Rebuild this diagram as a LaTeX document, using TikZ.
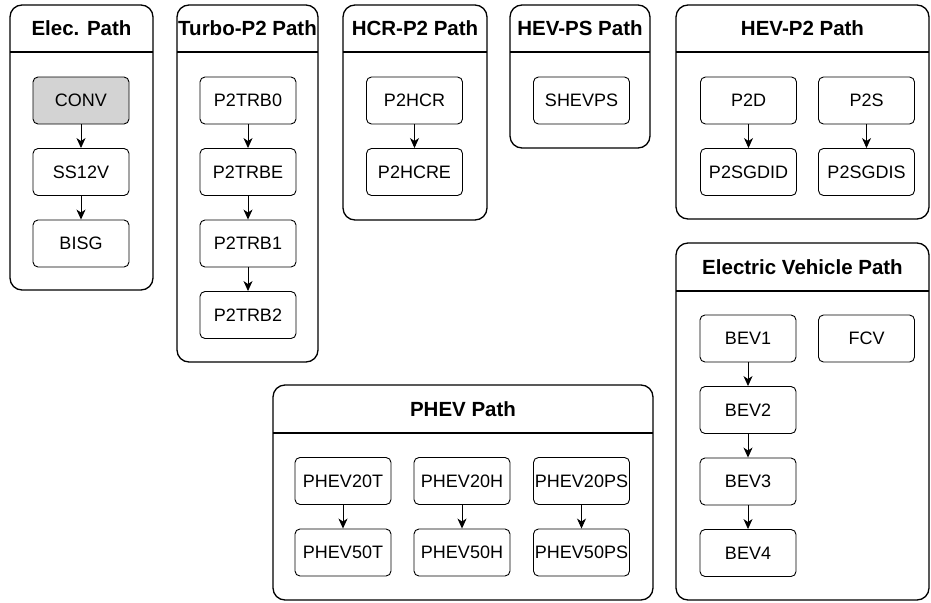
\documentclass[tikz,border=0pt]{standalone}
\usepackage{fontspec}
\setmainfont{Liberation Sans}
\usepackage{tikz}
\usetikzlibrary{arrows.meta}
\definecolor{convgray}{HTML}{D3D3D3}

\begin{document}
\begin{tikzpicture}[x=1pt,y=-1pt,node distance=71.5pt]
\tikzstyle{group}=[draw,line width=1.3pt,rounded corners=12pt];
\tikzstyle{lane}=[line width=1.3pt];
\tikzstyle{title}=[font=\fontsize{20.5}{24}\selectfont\bfseries];
\tikzstyle{block}=[draw,line width=0.9pt,rounded corners=5pt,minimum width=96pt,minimum height=47pt,inner sep=0pt,font=\fontsize{18}{21}\selectfont];
\tikzstyle{arrow}=[-{Stealth[length=10pt,width=9pt,inset=3pt]},line width=0.9pt];
\useasboundingbox (0,0) rectangle (931,602);

% path groups
\draw [group] (10,5) rectangle (153,290);
\draw [lane] (10,52) -- (153,52);
\draw [group] (177,5) rectangle (318,362);
\draw [lane] (177,52) -- (318,52);
\draw [group] (343,5) rectangle (487,220);
\draw [lane] (343,52) -- (487,52);
\draw [group] (510,5) rectangle (650,148);
\draw [lane] (510,52) -- (650,52);
\draw [group] (676,5) rectangle (929,219);
\draw [lane] (676,52) -- (929,52);
\draw [group] (676,243) rectangle (929,600);
\draw [lane] (676,291) -- (929,291);
\draw [group] (273,385) rectangle (653,600);
\draw [lane] (273,433) -- (653,433);

\node (g1) [title] at (81.5,28.5) {Elec. Path};
\node (g2) [title] at (247.5,28.5) {Turbo-P2 Path};
\node (g3) [title] at (415,28.5) {HCR-P2 Path};
\node (g4) [title] at (580,28.5) {HEV-PS Path};
\node (g5) [title] at (802.5,28.5) {HEV-P2 Path};
\node (g6) [title] at (802.5,267) {Electric Vehicle Path};
\node (g7) [title] at (463,409) {PHEV Path};

% Elec.
\node (e1) [block,fill=convgray] at (81,100.5) {CONV};
\node (e2) [block,below of=e1] {SS12V};
\node (e3) [block,below of=e2] {BISG};
\draw [arrow] (e1) -- (e2);
\draw [arrow] (e2) -- (e3);

% Turbo-P2
\node (t1) [block] at (248,100.5) {P2TRB0};
\node (t2) [block,below of=t1] {P2TRBE};
\node (t3) [block,below of=t2] {P2TRB1};
\node (t4) [block,below of=t3] {P2TRB2};
\draw [arrow] (t1) -- (t2);
\draw [arrow] (t2) -- (t3);
\draw [arrow] (t3) -- (t4);

% HCR-P2
\node (h1) [block] at (414.5,100.5) {P2HCR};
\node (h2) [block,below of=h1] {P2HCRE};
\draw [arrow] (h1) -- (h2);

% HEV-PS
\node (s1) [block] at (581.5,100.5) {SHEVPS};

% HEV-P2
\node (d1) [block] at (748.5,100.5) {P2D};
\node (d2) [block,below of=d1] {P2SGDID};
\node (d3) [block] at (866.5,100.5) {P2S};
\node (d4) [block,below of=d3] {P2SGDIS};
\draw [arrow] (d1) -- (d2);
\draw [arrow] (d3) -- (d4);

% Electric Vehicle
\node (b1) [block] at (748,338.5) {BEV1};
\node (b2) [block,below of=b1] {BEV2};
\node (b3) [block,below of=b2] {BEV3};
\node (b4) [block,below of=b3] {BEV4};
\node (b5) [block] at (866.5,338.5) {FCV};
\draw [arrow] (b1) -- (b2);
\draw [arrow] (b2) -- (b3);
\draw [arrow] (b3) -- (b4);

% PHEV
\node (p1) [block] at (343,481) {PHEV20T};
\node (p2) [block,below of=p1] {PHEV50T};
\node (p3) [block] at (462,481) {PHEV20H};
\node (p4) [block,below of=p3] {PHEV50H};
\node (p5) [block] at (581.5,481) {PHEV20PS};
\node (p6) [block,below of=p5] {PHEV50PS};
\draw [arrow] (p1) -- (p2);
\draw [arrow] (p3) -- (p4);
\draw [arrow] (p5) -- (p6);
\end{tikzpicture}
\end{document}
